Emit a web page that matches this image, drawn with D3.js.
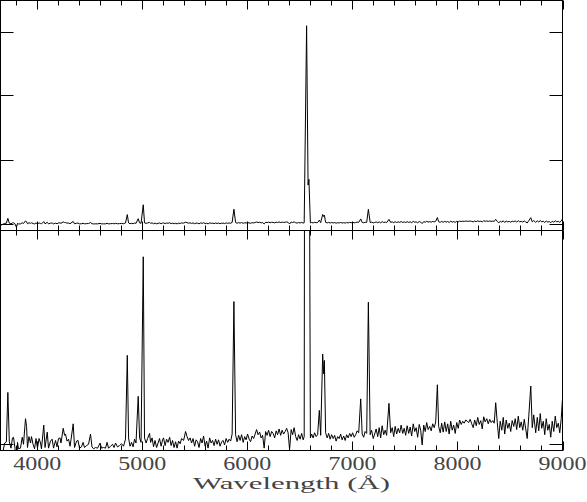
<!DOCTYPE html>
<html>
<head>
<meta charset="utf-8">
<script src="https://cdn.jsdelivr.net/npm/d3@7"></script>
<style>
  html, body { margin: 0; padding: 0; background: #fff; }
  svg { display: block; }
</style>
</head>
<body>
<script>
// ---------------- data ----------------
const xTickLabels = [4000, 5000, 6000, 7000, 8000, 9000];
const xMinorTicks = [3800, 4200, 4400, 4600, 4800, 5200, 5400, 5600, 5800, 6200, 6400, 6600, 6800,
                     7200, 7400, 7600, 7800, 8200, 8400, 8600, 8800];
const topYTicks = [0, 100, 200, 300];
const bottomYTicks = [0];
const axisTitle = "Wavelength (Å)";

const wavelength = [
  3650, 3668, 3690, 3706, 3720, 3734, 3750, 3764, 3774, 3788,
  3802, 3812, 3821, 3840, 3857, 3869, 3888, 3898, 3907, 3921,
  3936, 3945, 3960, 3974, 3988, 4002, 4017, 4031, 4040, 4062,
  4074, 4095, 4107, 4126, 4142, 4155, 4174, 4188, 4202, 4217,
  4226, 4247, 4260, 4269, 4283, 4298, 4312, 4321, 4342, 4355,
  4374, 4388, 4402, 4421, 4436, 4450, 4469, 4488, 4507, 4521,
  4536, 4555, 4574, 4598, 4612, 4631, 4650, 4664, 4679, 4698,
  4717, 4731, 4745, 4764, 4783, 4802, 4821, 4840, 4857, 4869,
  4883, 4898, 4912, 4926, 4940, 4961, 4974, 4988, 5009, 5021,
  5036, 5050, 5069, 5079, 5093, 5107, 5121, 5136, 5150, 5164,
  5179, 5193, 5202, 5217, 5231, 5245, 5260, 5274, 5288, 5302,
  5317, 5331, 5345, 5360, 5374, 5393, 5412, 5426, 5440, 5455,
  5469, 5483, 5498, 5512, 5526, 5540, 5555, 5569, 5583, 5598,
  5612, 5626, 5641, 5655, 5669, 5683, 5698, 5712, 5726, 5740,
  5755, 5769, 5783, 5798, 5812, 5826, 5841, 5855, 5872, 5888,
  5902, 5917, 5931, 5945, 5960, 5974, 5988, 6002, 6017, 6031,
  6045, 6060, 6074, 6088, 6102, 6117, 6131, 6145, 6160, 6174,
  6188, 6202, 6217, 6231, 6245, 6260, 6274, 6288, 6302, 6317,
  6331, 6345, 6360, 6374, 6388, 6402, 6417, 6431, 6445, 6460,
  6474, 6488, 6502, 6517, 6531, 6541, 6564, 6578, 6586, 6600,
  6612, 6626, 6640, 6655, 6669, 6685, 6698, 6717, 6726, 6733,
  6745, 6760, 6774, 6788, 6802, 6817, 6831, 6845, 6860, 6874,
  6888, 6902, 6917, 6931, 6945, 6960, 6974, 6988, 7002, 7017,
  7031, 7045, 7060, 7079, 7093, 7107, 7121, 7136, 7152, 7169,
  7183, 7198, 7212, 7226, 7241, 7255, 7269, 7283, 7298, 7312,
  7326, 7348, 7364, 7379, 7393, 7407, 7421, 7436, 7450, 7464,
  7479, 7493, 7507, 7521, 7536, 7550, 7564, 7579, 7593, 7607,
  7621, 7636, 7650, 7664, 7679, 7693, 7707, 7721, 7736, 7750,
  7764, 7779, 7793, 7809, 7821, 7836, 7850, 7864, 7879, 7893,
  7907, 7921, 7936, 7950, 7964, 7979, 7993, 8007, 8021, 8036,
  8050, 8064, 8079, 8093, 8107, 8121, 8136, 8150, 8164, 8179,
  8193, 8207, 8222, 8236, 8250, 8264, 8279, 8293, 8307, 8321,
  8336, 8350, 8364, 8379, 8393, 8407, 8422, 8436, 8450, 8464,
  8479, 8493, 8507, 8521, 8536, 8550, 8564, 8579, 8593, 8607,
  8622, 8636, 8650, 8664, 8679, 8698, 8712, 8726, 8745, 8760,
  8774, 8788, 8802, 8817, 8831, 8845, 8860, 8874, 8888, 8902,
  8917, 8931, 8945, 8960, 8974, 8988, 8999
];

const flux = [
  -3.0, -1.5, 0.2, 0.4, 8.1, 0.4, -0.6, 1.0, 1.1, -0.6,
  -6.0, 0.3, -0.7, -0.6, 1.1, 0.0, 4.0, 2.8, -0.5, 1.2,
  0.2, 1.2, 0.0, -0.7, 0.9, -0.6, 0.9, 0.2, -0.7, 3.0,
  -0.5, 1.9, -0.6, 0.5, 0.8, -0.6, 0.6, -0.4, 0.9, 1.0,
  0.2, 2.5, 1.4, 1.6, 0.5, 0.8, -0.3, 0.7, 3.2, -0.5,
  0.5, 0.6, -0.6, -0.4, 0.3, -0.5, -0.2, 0.0, 1.6, -0.4,
  -0.7, -0.5, -0.6, 0.2, -0.6, -0.5, -0.6, 0.3, -0.6, -0.3,
  0.0, -0.5, 0.2, -0.4, -0.2, 0.1, -0.3, 0.8, 13.9, 1.0,
  -0.3, 0.3, -0.4, 0.8, 0.2, 7.5, 1.0, 0.3, 29.3, 1.0,
  0.2, 0.9, 1.7, 0.3, 1.0, -0.4, 0.6, -0.5, 0.2, 0.9,
  -0.3, 0.7, 1.0, -0.2, 0.8, 0.3, 1.1, -0.2, 0.6, -0.5,
  0.4, -0.6, 0.5, 0.1, 0.9, 0.6, 2.0, 1.2, 0.6, 1.0,
  0.2, 0.9, -0.3, 0.7, 0.4, -0.5, 0.9, 0.2, 1.3, -0.3,
  0.5, -0.6, 1.0, 0.2, 0.6, -0.2, 0.8, 0.0, 0.7, -0.3,
  0.4, 0.6, -0.1, 0.9, 0.3, 0.8, 0.5, 1.6, 22.3, 1.5,
  0.4, 1.4, 0.6, 1.5, 0.3, 1.2, 0.7, 1.6, 0.8, 0.4,
  1.3, 0.9, 1.6, 2.3, 1.5, 1.9, 1.0, 1.4, -0.6, 2.0,
  1.4, 2.2, 1.2, 2.0, 1.7, 1.0, 2.1, 1.5, 2.4, 1.4,
  2.2, 1.6, 2.0, 2.5, 1.8, -0.8, 2.3, 1.5, 2.6, 1.2,
  0.6, 1.5, 0.8, 1.7, 0.7, 1.2, 309.0, 60.0, 69.0, 1.0,
  1.6, 1.0, 1.8, 1.2, 1.5, 5.3, 1.4, 14.1, 11.0, 13.1,
  1.8, 1.0, 1.7, 0.8, 1.5, 0.9, 1.4, 0.5, 1.2, 0.9,
  1.6, 0.7, 1.3, 0.6, 1.5, 1.0, 1.7, 1.2, 1.8, 1.1,
  1.5, 2.1, 1.8, 7.1, 1.6, 1.1, 2.0, 1.7, 22.2, 1.5,
  2.2, 0.9, 1.6, 2.4, 1.2, 2.6, 1.0, 2.9, 1.5, 2.2,
  1.4, 6.4, 1.8, 2.6, 1.2, 2.8, 1.6, 2.5, 1.8, 3.0,
  1.7, 2.5, 1.4, 2.9, 1.7, 2.7, 1.3, 3.2, 2.0, 2.6,
  1.1, 3.1, 2.2, -0.1, 3.0, 2.0, 3.4, 2.3, 2.8, 2.1,
  3.2, 2.6, 3.5, 9.3, 2.8, 1.8, 3.3, 1.9, 3.5, 2.0,
  3.2, 1.6, 3.6, 2.2, 3.0, 1.7, 3.4, 2.5, 3.8, 3.1,
  3.6, 3.3, 3.8, 3.6, 3.4, 3.9, 3.2, 2.6, 3.8, 2.9,
  4.2, 3.1, 3.7, 2.4, 4.3, 3.5, 4.0, 3.2, 3.9, 3.4,
  3.7, 3.3, 6.5, 3.4, 0.9, 3.6, 2.2, 4.2, 1.6, 3.8,
  2.5, 3.3, 2.0, 3.7, 2.8, 4.0, 2.3, 4.4, 2.6, 3.5,
  2.2, 3.9, 2.4, 0.9, 4.4, 9.1, 2.6, 4.6, 1.8, 4.2,
  2.1, 4.8, 2.5, 3.6, 1.5, 4.0, 2.2, 3.1, 1.1, 3.6,
  2.0, 4.4, 2.6, 3.3, 1.8, 4.0, 6.9
];

// ---------------- layout ----------------
const W = 587, H = 502;
const plotLeft = 0.5, plotRight = 562.5;
const topPanel = { top: 0.5, bottom: 230.5, zero: 223.5, pxPerUnit: 0.64 };
const botPanel = { top: 230.5, bottom: 450.5, zero: 444.3, pxPerUnit: 6.4 };

const svg = d3.select("body").append("svg")
  .attr("width", W).attr("height", H)
  .style("background", "#fff");

const x = d3.scaleLinear().domain([3650, 9000]).range([plotLeft, plotRight]);

function yScaleFor(p) {
  const lo = (p.zero - p.bottom) / p.pxPerUnit;
  const hi = (p.zero - p.top) / p.pxPerUnit;
  return d3.scaleLinear().domain([lo, hi]).range([p.bottom, p.top]);
}
const yTop = yScaleFor(topPanel);
const yBot = yScaleFor(botPanel);

const pts = wavelength.map((w, i) => ({ w, f: flux[i] }));

const defs = svg.append("defs");
function addClip(id, p) {
  defs.append("clipPath").attr("id", id).append("rect")
    .attr("x", plotLeft).attr("y", p.top)
    .attr("width", plotRight - plotLeft).attr("height", p.bottom - p.top);
}
addClip("clipTop", topPanel);
addClip("clipBot", botPanel);

function drawSpectrum(y, clipId) {
  const line = d3.line().x(d => x(d.w)).y(d => y(d.f));
  svg.append("path")
    .datum(pts)
    .attr("clip-path", `url(#${clipId})`)
    .attr("fill", "none")
    .attr("stroke", "#000")
    .attr("stroke-width", 1)
    .attr("stroke-linejoin", "miter")
    .attr("d", line);
}
drawSpectrum(yTop, "clipTop");
drawSpectrum(yBot, "clipBot");

// ---------------- axes / frame ----------------
const axisColor = "#000";
const majorLen = 9, minorLen = 5, yTickLen = 13;

function xTicks(yEdge, dir) {
  const g = svg.append("g");
  xTickLabels.forEach(v => {
    const px = Math.round(x(v)) + 0.5;
    g.append("line").attr("x1", px).attr("x2", px)
      .attr("y1", yEdge).attr("y2", yEdge + dir * majorLen)
      .attr("stroke", axisColor).attr("stroke-width", 1);
  });
  xMinorTicks.forEach(v => {
    const px = Math.round(x(v)) + 0.5;
    g.append("line").attr("x1", px).attr("x2", px)
      .attr("y1", yEdge).attr("y2", yEdge + dir * minorLen)
      .attr("stroke", axisColor).attr("stroke-width", 1);
  });
}
xTicks(topPanel.top, 1);
xTicks(topPanel.bottom, -1);
xTicks(botPanel.top, 1);
xTicks(botPanel.bottom, -1);

function yTicks(values, y) {
  values.forEach(v => {
    const py = Math.round(y(v)) + 0.5;
    svg.append("line").attr("x1", plotLeft).attr("x2", plotLeft + yTickLen)
      .attr("y1", py).attr("y2", py).attr("stroke", axisColor);
    svg.append("line").attr("x1", plotRight).attr("x2", plotRight - yTickLen)
      .attr("y1", py).attr("y2", py).attr("stroke", axisColor);
  });
}
yTicks(topYTicks, yTop);
yTicks(bottomYTicks, yBot);

[topPanel, botPanel].forEach(p => {
  svg.append("rect")
    .attr("x", plotLeft).attr("y", p.top)
    .attr("width", plotRight - plotLeft).attr("height", p.bottom - p.top)
    .attr("fill", "none").attr("stroke", axisColor).attr("stroke-width", 1);
});

xTickLabels.forEach(v => {
  svg.append("text")
    .attr("x", x(v)).attr("y", 470)
    .attr("text-anchor", "middle")
    .attr("font-family", "'Liberation Serif', 'DejaVu Serif', serif")
    .attr("font-size", 18.5)
    .attr("fill", "#444")
    .attr("textLength", 48)
    .attr("lengthAdjust", "spacingAndGlyphs")
    .text(v);
});

svg.append("text")
  .attr("x", 291.5).attr("y", 488.5)
  .attr("text-anchor", "middle")
  .attr("font-family", "'Liberation Serif', 'DejaVu Serif', serif")
  .attr("font-size", 16.5)
  .attr("fill", "#444")
  .attr("textLength", 197)
  .attr("lengthAdjust", "spacingAndGlyphs")
  .text(axisTitle);
</script>
</body>
</html>
